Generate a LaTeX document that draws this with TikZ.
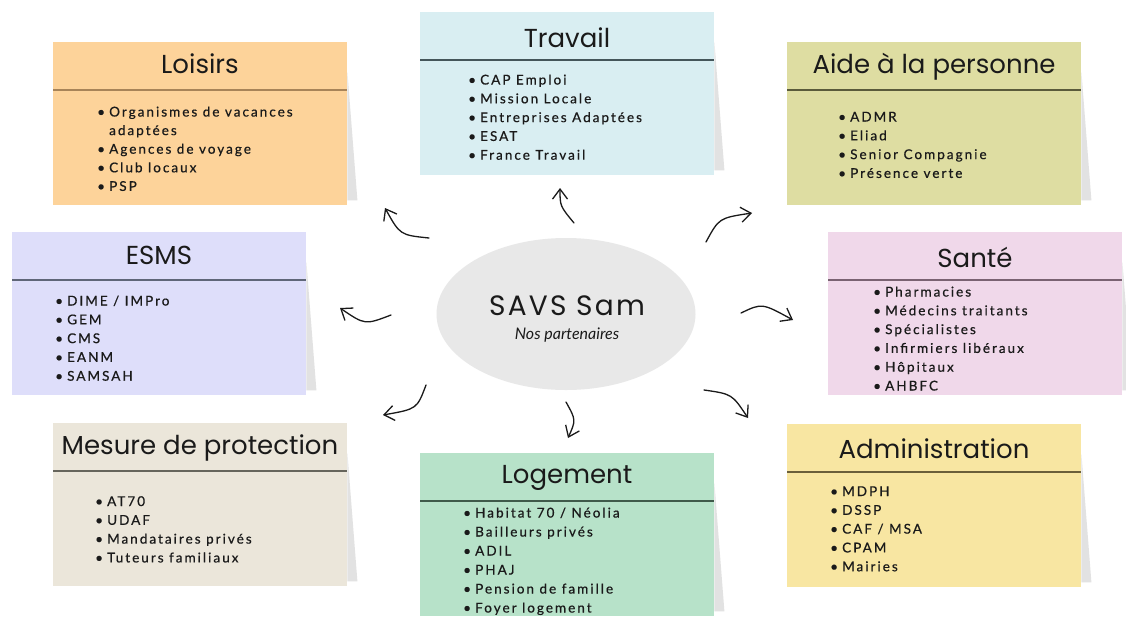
\documentclass[tikz,border=0pt]{standalone}
\usepackage{fontspec}
\usetikzlibrary{arrows.meta,shapes.geometric}
\setmainfont{Lato}
\newfontfamily\titlefont{Poppins}
\newfontfamily\itemfont{Lato}[LetterSpace=15,FakeBold=0.6]
\newfontfamily\subfont{Lato}
\definecolor{ink}{HTML}{1A1A1A}
\definecolor{shadowc}{HTML}{E2E2E2}
\definecolor{cLoisirs}{HTML}{FDD39A}
\definecolor{lLoisirs}{HTML}{A88458}
\definecolor{cTravail}{HTML}{D9EEF2}
\definecolor{lTravail}{HTML}{44555A}
\definecolor{cAide}{HTML}{DEDDA2}
\definecolor{lAide}{HTML}{5A5A3A}
\definecolor{cEsms}{HTML}{DEDEFA}
\definecolor{lEsms}{HTML}{5F6678}
\definecolor{cSante}{HTML}{F0D8EA}
\definecolor{lSante}{HTML}{7A6272}
\definecolor{cMesure}{HTML}{EBE6DA}
\definecolor{lMesure}{HTML}{66655C}
\definecolor{cLogement}{HTML}{B7E2C9}
\definecolor{lLogement}{HTML}{3F5A4A}
\definecolor{cAdmin}{HTML}{F8E6A2}
\definecolor{lAdmin}{HTML}{6B5F3A}
\definecolor{cCenter}{HTML}{E8E8E8}
\newcommand\bul{\makebox[12pt][l]{\textbullet}}
\tikzset{
  card/.style={draw=none, inner sep=0pt, anchor=north west, minimum width=294pt, minimum height=163pt},
  ttl/.style={font=\titlefont\fontsize{26}{30}\selectfont, anchor=base, inner sep=0pt, text=ink},
  item/.style={font=\itemfont\fontsize{13.5}{16}\selectfont, anchor=base west, inner sep=0pt, text=ink},
  arr/.style={line width=1.3pt, draw=ink, line cap=round, -{Straight Barb[length=10pt,width=15pt]}},
}
\newcommand\mkcard[5]{%
  \node[card, fill=#4] (#1) at (#2,#3) {};
  \fill[shadowc] ([yshift=-30pt]#1.north east) -- ([xshift=10pt,yshift=5pt]#1.south east) -- ([yshift=5pt]#1.south east) -- cycle;
  \draw[line width=1.2pt, draw=#5] ([yshift=-48pt]#1.north west) -- ([yshift=-48pt]#1.north east);
}
\begin{document}
\begin{tikzpicture}[x=1pt,y=-1pt]
\useasboundingbox (0,0) rectangle (1126,619);
\fill[white] (0,0) rectangle (1126,619);
\clip (0,0) rectangle (1126,619);

% cards
\mkcard{loisirs}{53}{42}{cLoisirs}{lLoisirs}
\mkcard{travail}{420}{12}{cTravail}{lTravail}
\mkcard{aide}{787}{42}{cAide}{lAide}
\mkcard{esms}{12}{232}{cEsms}{lEsms}
\mkcard{sante}{828}{232}{cSante}{lSante}
\mkcard{mesure}{53}{423}{cMesure}{lMesure}
\mkcard{logement}{420}{453}{cLogement}{lLogement}
\mkcard{admin}{787}{424}{cAdmin}{lAdmin}

% titles
\node[ttl] (t-loisirs) at (200,73) {Loisirs};
\node[ttl] (t-travail) at (567,47) {Travail};
\node[ttl] (t-aide) at (934,73) {Aide à la personne};
\node[ttl] (t-esms) at (159,264) {ESMS};
\node[ttl] (t-sante) at (975,267) {Santé};
\node[ttl] (t-mesure) at (200,454) {Mesure de protection};
\node[ttl] (t-logement) at (567,483) {Logement};
\node[ttl] (t-admin) at (934,458) {Administration};

% items
\node[item] (lo-1) at (97,116.5) {\bul Organismes de vacances};
\node[item] (lo-2) at (109,135.1) {adaptées};
\node[item] (lo-3) at (97,153.7) {\bul Agences de voyage};
\node[item] (lo-4) at (97,172.3) {\bul Club locaux};
\node[item] (lo-5) at (97,190.9) {\bul PSP};

\foreach \t [count=\i from 0] in {CAP Emploi, Mission Locale, Entreprises Adaptées, ESAT, France Travail}
  \node[item] (tr-\i) at (468,{84.5+18.8*\i}) {\bul\t};
\foreach \t [count=\i from 0] in {ADMR, Eliad, Senior Compagnie, Présence verte}
  \node[item] (ai-\i) at (838,{121.5+18.8*\i}) {\bul\t};
\foreach \t [count=\i from 0] in {DIME / IMPro, GEM, CMS, EANM, SAMSAH}
  \node[item] (es-\i) at (55,{305.5+18.8*\i}) {\bul\t};
\foreach \t [count=\i from 0] in {Pharmacies, Médecins traitants, Spécialistes, Infirmiers libéraux, Hôpitaux, AHBFC}
  \node[item] (sa-\i) at (873,{296.5+18.8*\i}) {\bul\t};
\foreach \t [count=\i from 0] in {AT70, UDAF, Mandataires privés, Tuteurs familiaux}
  \node[item] (me-\i) at (95,{506+18.8*\i}) {\bul\t};
\foreach \t [count=\i from 0] in {Habitat 70 / Néolia, Bailleurs privés, ADIL, PHAJ, Pension de famille, Foyer logement}
  \node[item] (lg-\i) at (463,{517.5+19*\i}) {\bul\t};
\foreach \t [count=\i from 0] in {MDPH, DSSP, CAF / MSA, CPAM, Mairies}
  \node[item] (ad-\i) at (830,{496+18.8*\i}) {\bul\t};

% centre
\node[ellipse, fill=cCenter, draw=none, inner sep=0pt, minimum width=259pt, minimum height=152pt] (centre) at (566,314) {};
\node[font=\titlefont\fontsize{28}{32}\selectfont\addfontfeature{LetterSpace=8}, anchor=base, inner sep=0pt, text=ink] (savs) at (567,315) {SAVS Sam};
\node[font=\subfont\itshape\fontsize{16}{18}\selectfont, anchor=base, inner sep=0pt, text=ink] (nos) at (567,339) {Nos partenaires};

% arrows
\coordinate (a1t) at (429,238); \coordinate (a1c) at (400,235); \coordinate (a1h) at (385,208);
\coordinate (a2t) at (574,223); \coordinate (a2c) at (560,206); \coordinate (a2h) at (560,188);
\coordinate (a3t) at (706,242); \coordinate (a3c) at (719,218); \coordinate (a3h) at (752,213);
\coordinate (a4t) at (391,315); \coordinate (a4c) at (365,325); \coordinate (a4h) at (340,308);
\coordinate (a5t) at (741,313); \coordinate (a5c) at (762,303); \coordinate (a5h) at (793,320);
\coordinate (a6t) at (426,385); \coordinate (a6c) at (417,409); \coordinate (a6h) at (383,415);
\coordinate (a7t) at (566,402); \coordinate (a7c) at (576,420); \coordinate (a7h) at (568,438);
\coordinate (a8t) at (704,390); \coordinate (a8c) at (732,394); \coordinate (a8h) at (748,418);
\foreach \k in {1,...,8}
  \draw[arr] (a\k t) .. controls (a\k c) .. (a\k h);
\end{tikzpicture}
\end{document}
